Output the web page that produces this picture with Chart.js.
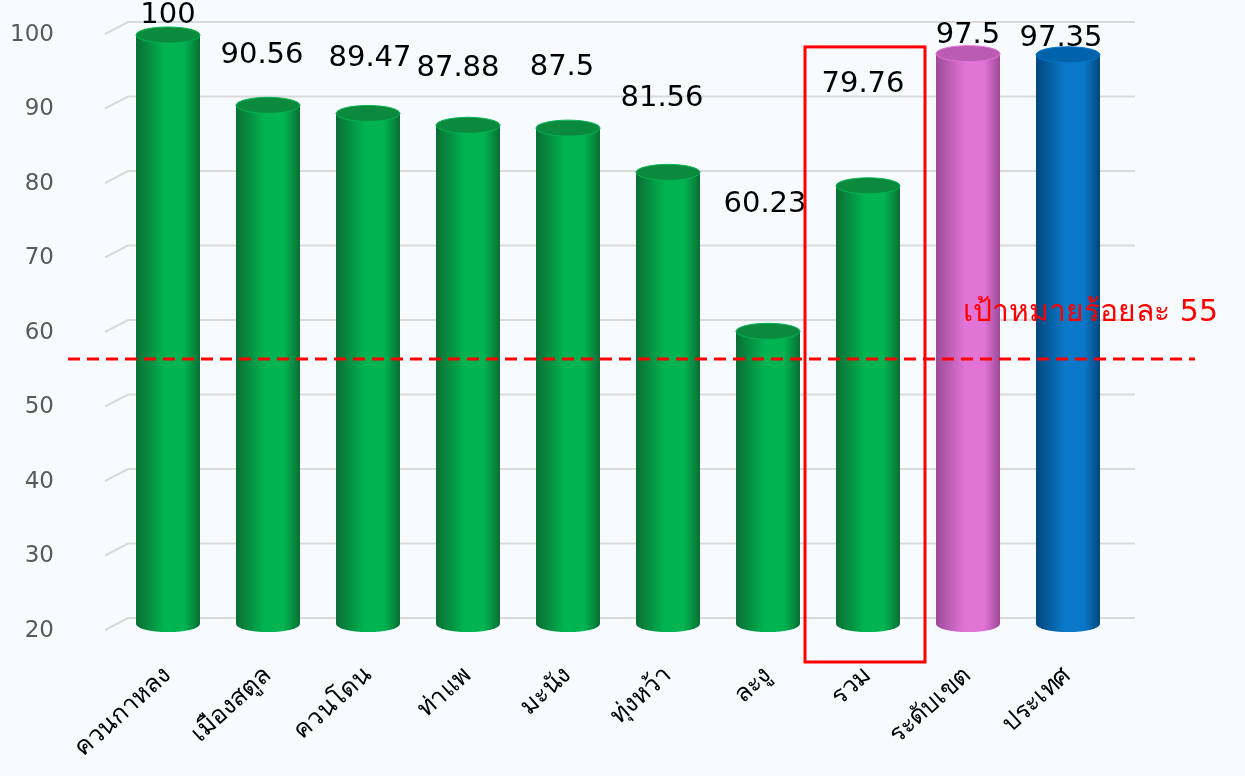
<!DOCTYPE html>
<html>
<head>
<meta charset="utf-8">
<script src="https://cdn.jsdelivr.net/npm/chart.js@4"></script>
<style>
  html, body { margin: 0; padding: 0; background: #f8fbfd; }
  #wrap { width: 1245px; height: 776px; }
</style>
</head>
<body>
<div id="wrap"><canvas id="mychart" width="1245" height="776"></canvas></div>
<script>
// ข้อมูล
const categories = ["ควนกาหลง", "เมืองสตูล", "ควนโดน", "ท่าแพ", "มะนัง", "ทุ่งหว้า", "ละงู", "รวม", "ระดับเขต", "ประเทศ"];
const values = [100, 90.56, 89.47, 87.88, 87.5, 81.56, 60.23, 79.76, 97.5, 97.35];
const yTicks = [20, 30, 40, 50, 60, 70, 80, 90, 100];
const targetValue = 56.5;
const targetText = "เป้าหมายร้อยละ 55";
const highlightIndex = 7;

const FONT = "'DejaVu Sans', 'Noto Sans', sans-serif";

// สีทรงกระบอก: ขอบ, กลาง, ฝาบน
const palette = {
  green: { edge: "#0a6e34", mid: "#00b451", top: "#0b8a3e" },
  pink: { edge: "#9c4a98", mid: "#e274d6", top: "#b95cb2" },
  blue: { edge: "#00477e", mid: "#0a78c8", top: "#0062ab" },
};
const barKinds = ["green", "green", "green", "green", "green", "green", "green", "green", "pink", "blue"];

// ระยะยกป้ายตัวเลขเหนือแท่ง (px)
const labelLift = [20, 50, 55, 57, 61, 74, 127, 101, 18, 16];
const labelShift = [0, -6, 2, -10, -6, -6, -3, -5, 0, -7];

// เส้นกริดแบบ 3 มิติ
const gridPlugin = {
  id: "grid3d",
  beforeDatasetsDraw(chart) {
    const { ctx, chartArea, scales } = chart;
    ctx.save();
    ctx.strokeStyle = "#d9d9d9";
    ctx.lineWidth = 2;
    yTicks.forEach((v) => {
      const y = scales.y.getPixelForValue(v);
      ctx.beginPath();
      ctx.moveTo(chartArea.left - 13, y - 1);
      ctx.lineTo(chartArea.left + 10, y - 13);
      ctx.lineTo(chartArea.right + 17, y - 13);
      ctx.stroke();
    });
    ctx.restore();
  },
};

// วาดทรงกระบอก + ป้าย + เส้นเป้าหมาย
const cylinderPlugin = {
  id: "cylinder",
  afterDatasetsDraw(chart) {
    const { ctx, chartArea, scales } = chart;
    const meta = chart.getDatasetMeta(0);
    ctx.save();
    meta.data.forEach((el, i) => {
      const c = palette[barKinds[i]];
      const x = el.x, top = el.y;
      const rx = el.width / 2, ry = 8;
      const base = Math.min(el.base, chartArea.bottom) - ry + 1;
      const g = ctx.createLinearGradient(x - rx, 0, x + rx, 0);
      g.addColorStop(0, c.edge);
      g.addColorStop(0.45, c.mid);
      g.addColorStop(0.75, c.mid);
      g.addColorStop(1, c.edge);
      ctx.fillStyle = g;
      ctx.beginPath();
      ctx.moveTo(x - rx, top);
      ctx.lineTo(x - rx, base);
      ctx.ellipse(x, base, rx, ry, 0, Math.PI, 0, true);
      ctx.lineTo(x + rx, top);
      ctx.closePath();
      ctx.fill();
      // ฝาบน
      ctx.beginPath();
      ctx.ellipse(x, top, rx, ry, 0, 0, Math.PI * 2);
      ctx.fillStyle = c.top;
      ctx.fill();
      ctx.strokeStyle = c.mid;
      ctx.lineWidth = 1;
      ctx.stroke();
      // ป้ายตัวเลข
      ctx.fillStyle = "#000";
      ctx.font = "29px " + FONT;
      ctx.textAlign = "center";
      ctx.textBaseline = "middle";
      ctx.fillText(String(values[i]), x + labelShift[i], top - labelLift[i]);
    });

    // กรอบแดงรอบ "รวม"
    const h = meta.data[highlightIndex];
    ctx.strokeStyle = "#ff0000";
    ctx.lineWidth = 3;
    const boxTop = scales.y.getPixelForValue(98.4);
    ctx.strokeRect(h.x - 63, boxTop, 120, chartArea.bottom + 31 - boxTop);

    // เส้นเป้าหมาย
    const ty = scales.y.getPixelForValue(targetValue);
    ctx.setLineDash([12, 7]);
    ctx.lineWidth = 3;
    ctx.beginPath();
    ctx.moveTo(chartArea.left - 50, ty);
    ctx.lineTo(chartArea.right + 77, ty);
    ctx.stroke();
    ctx.setLineDash([]);
    ctx.fillStyle = "#ff0000";
    ctx.font = "30px " + FONT;
    ctx.textAlign = "right";
    ctx.fillText(targetText, chartArea.right + 100, ty - 46);
    ctx.restore();
  },
};

const ctx = document.getElementById("mychart").getContext("2d");
const mychart = new Chart(ctx, {
  type: "bar",
  data: {
    labels: categories,
    datasets: [
      {
        data: values,
        backgroundColor: "rgba(0,0,0,0)",
        borderWidth: 0,
        barPercentage: 0.64,
        categoryPercentage: 1,
      },
    ],
  },
  options: {
    responsive: false,
    animation: false,
    events: [],
    layout: { padding: { top: 35, right: 127, left: 0, bottom: 0 } },
    plugins: { legend: { display: false }, tooltip: { enabled: false } },
    scales: {
      x: {
        grid: { display: false },
        border: { display: false },
        afterFit: (s) => {
          s.height = 145;
          s.paddingLeft = 0; s.paddingRight = 0; s.paddingTop = 0; s.paddingBottom = 0;
        },
        ticks: {
          minRotation: 42,
          maxRotation: 42,
          padding: 22,
          color: "#000",
          font: { family: FONT, size: 25 },
        },
      },
      y: {
        min: 20,
        max: 100,
        afterFit: (s) => {
          s.width = 118;
          s.paddingLeft = 0; s.paddingRight = 0; s.paddingTop = 0; s.paddingBottom = 0;
        },
        afterBuildTicks: (s) => { s.ticks = yTicks.map((v) => ({ value: v })); },
        grid: { display: false },
        border: { display: false },
        ticks: {
          padding: 56,
          color: "#595959",
          font: { family: FONT, size: 23 },
        },
      },
    },
  },
  plugins: [gridPlugin, cylinderPlugin],
});
</script>
</body>
</html>
